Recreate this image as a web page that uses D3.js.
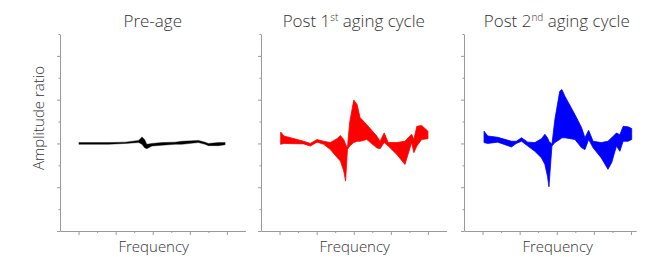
<!DOCTYPE html>
<html>
<head>
<meta charset="utf-8">
<script src="https://cdn.jsdelivr.net/npm/d3@7"></script>
<style>
  body { margin: 0; background: #fff; }
  text { font-family: "Open Sans", Lato, sans-serif; font-weight: 300; fill: #333; }
</style>
</head>
<body>
<div id="chart"></div>
<script>
// x in tick units (0..4 = first..last major tick), y = amplitude ratio offset (0 = baseline)
const preFreq  = [0.01, 0.81, 1.26, 1.62, 1.71, 1.78, 1.84, 1.98, 2.25, 2.60, 2.78, 3.23, 3.41, 3.50, 3.77, 3.95]
const preUpper = [0.02, 0.02, 0.03, 0.07, 0.15, 0.09, -0.02, 0.0, 0.02, 0.03, 0.05, 0.07, 0.03, 0.0, 0.02, 0.02]
const preLower = [-0.02, -0.02, 0.0, 0.02, -0.02, -0.10, -0.12, -0.06, -0.04, -0.02, -0.02, 0.02, -0.02, -0.05, -0.05, -0.03]

const post1Freq  = [0.03, 0.12, 0.65, 0.83, 1.01, 1.19, 1.37, 1.55, 1.64, 1.73, 1.78, 1.83, 1.89, 2.00, 2.09, 2.17, 2.35, 2.62, 2.71, 2.82, 2.93, 3.16, 3.38, 3.56, 3.62, 3.70, 3.83, 4.00]
const post1Upper = [0.26, 0.17, 0.05, 0.00, 0.09, 0.05, 0.02, 0.11, 0.18, 0.09, -0.02, -0.10, 0.48, 0.99, 0.89, 0.59, 0.43, 0.17, 0.05, 0.24, 0.02, 0.02, 0.05, 0.21, 0.09, 0.39, 0.41, 0.28]
const post1Lower = [-0.02, 0.00, -0.01, -0.06, 0.03, -0.02, -0.14, -0.32, -0.40, -0.63, -0.86, -0.14, -0.06, 0.02, 0.05, 0.05, 0.09, -0.10, -0.12, 0.02, -0.06, -0.25, -0.48, 0.02, -0.21, -0.06, 0.09, 0.11]

const post2Freq  = [0.04, 0.14, 0.41, 0.78, 0.91, 1.05, 1.22, 1.41, 1.59, 1.68, 1.75, 1.79, 1.87, 1.95, 2.08, 2.14, 2.22, 2.49, 2.67, 2.76, 2.86, 2.98, 3.20, 3.38, 3.48, 3.61, 3.70, 3.79, 3.92, 4.02]
const post2Upper = [0.28, 0.17, 0.14, 0.05, 0.05, 0.13, 0.03, 0.02, 0.11, 0.21, 0.13, 0.05, -0.02, 0.55, 1.19, 1.23, 1.08, 0.66, 0.36, 0.13, 0.30, 0.05, 0.02, 0.05, 0.13, 0.24, 0.20, 0.39, 0.38, 0.34]
const post2Lower = [0.02, 0.00, 0.03, -0.08, 0.00, 0.05, -0.06, -0.18, -0.33, -0.48, -0.75, -0.99, -0.06, 0.02, 0.09, 0.13, 0.13, 0.09, -0.10, -0.14, 0.09, -0.10, -0.33, -0.59, -0.44, -0.06, -0.18, 0.05, 0.05, 0.09]

const yTicks = d3.range(-2, 2.51, 0.5)
const xTicks = d3.range(0, 4.01, 0.5)

const panels = [
  { title: 'Pre-age', sup: null, freq: preFreq, upper: preUpper, lower: preLower, color: '#000', sw: 0.4, x0: 60, xEnd: 4.5 },
  { title: 'Post 1', sup: 'st', rest: ' aging cycle', freq: post1Freq, upper: post1Upper, lower: post1Lower, color: '#ff0000', sw: 0.8, x0: 261, xEnd: 4.5 },
  { title: 'Post 2', sup: 'nd', rest: ' aging cycle', freq: post2Freq, upper: post2Upper, lower: post2Lower, color: '#0000ff', sw: 0.8, x0: 464, xEnd: 4.14 }
]

const svg = d3.select('#chart')
  .append('svg')
  .attr('width', 655)
  .attr('height', 257)

const unit = 37.1
const y = d3.scaleLinear().domain([-2, 2.5]).range([231, 34])

panels.forEach(function(p) {
  const x = d3.scaleLinear()
    .domain([-0.5, p.xEnd])
    .range([p.x0, p.x0 + (p.xEnd + 0.5) * unit])

  const g = svg.append('g')

  // y axis
  const ya = g.append('g')
    .attr('transform', `translate(${p.x0},0)`)
    .call(d3.axisLeft(y).tickValues(yTicks).tickSizeOuter(0).tickFormat(''))
  ya.selectAll('.tick line').attr('x2', d => Number.isInteger(d) ? -3 : -1.5)

  // x axis
  const xa = g.append('g')
    .attr('transform', 'translate(0,231)')
    .call(d3.axisBottom(x).tickValues(xTicks).tickSizeOuter(0).tickFormat(''))
  xa.selectAll('.tick line').attr('y2', d => Number.isInteger(d) ? 4 : 2)

  g.selectAll('.domain, .tick line').attr('stroke', '#9a9a9a')

  const rows = p.freq.map((f, i) => ({ f: f, hi: p.upper[i], lo: p.lower[i] }))
  const area = d3.area()
    .x(d => x(d.f))
    .y0(d => y(d.lo))
    .y1(d => y(d.hi))

  g.append('path')
    .datum(rows)
    .attr('d', area)
    .attr('fill', p.color)
    .attr('stroke', p.color)
    .attr('stroke-width', p.sw)
    .attr('stroke-linejoin', 'round')

  // title
  const cx = x(2)
  const t = g.append('text')
    .attr('x', cx)
    .attr('y', 27)
    .attr('text-anchor', 'middle')
    .style('font-size', '17px')
  if (p.sup) {
    t.append('tspan').text(p.title)
    t.append('tspan').text(p.sup).attr('dy', -6).style('font-size', '10px')
    t.append('tspan').text(p.rest).attr('dy', 6)
  } else {
    t.text(p.title)
  }

  g.append('text')
    .attr('x', cx + 1)
    .attr('y', 252)
    .attr('text-anchor', 'middle')
    .style('font-size', '15px')
    .text('Frequency')
})

svg.append('text')
  .attr('transform', 'translate(44,118) rotate(-90)')
  .attr('text-anchor', 'middle')
  .style('font-size', '15px')
  .text('Amplitude ratio')
</script>
</body>
</html>
